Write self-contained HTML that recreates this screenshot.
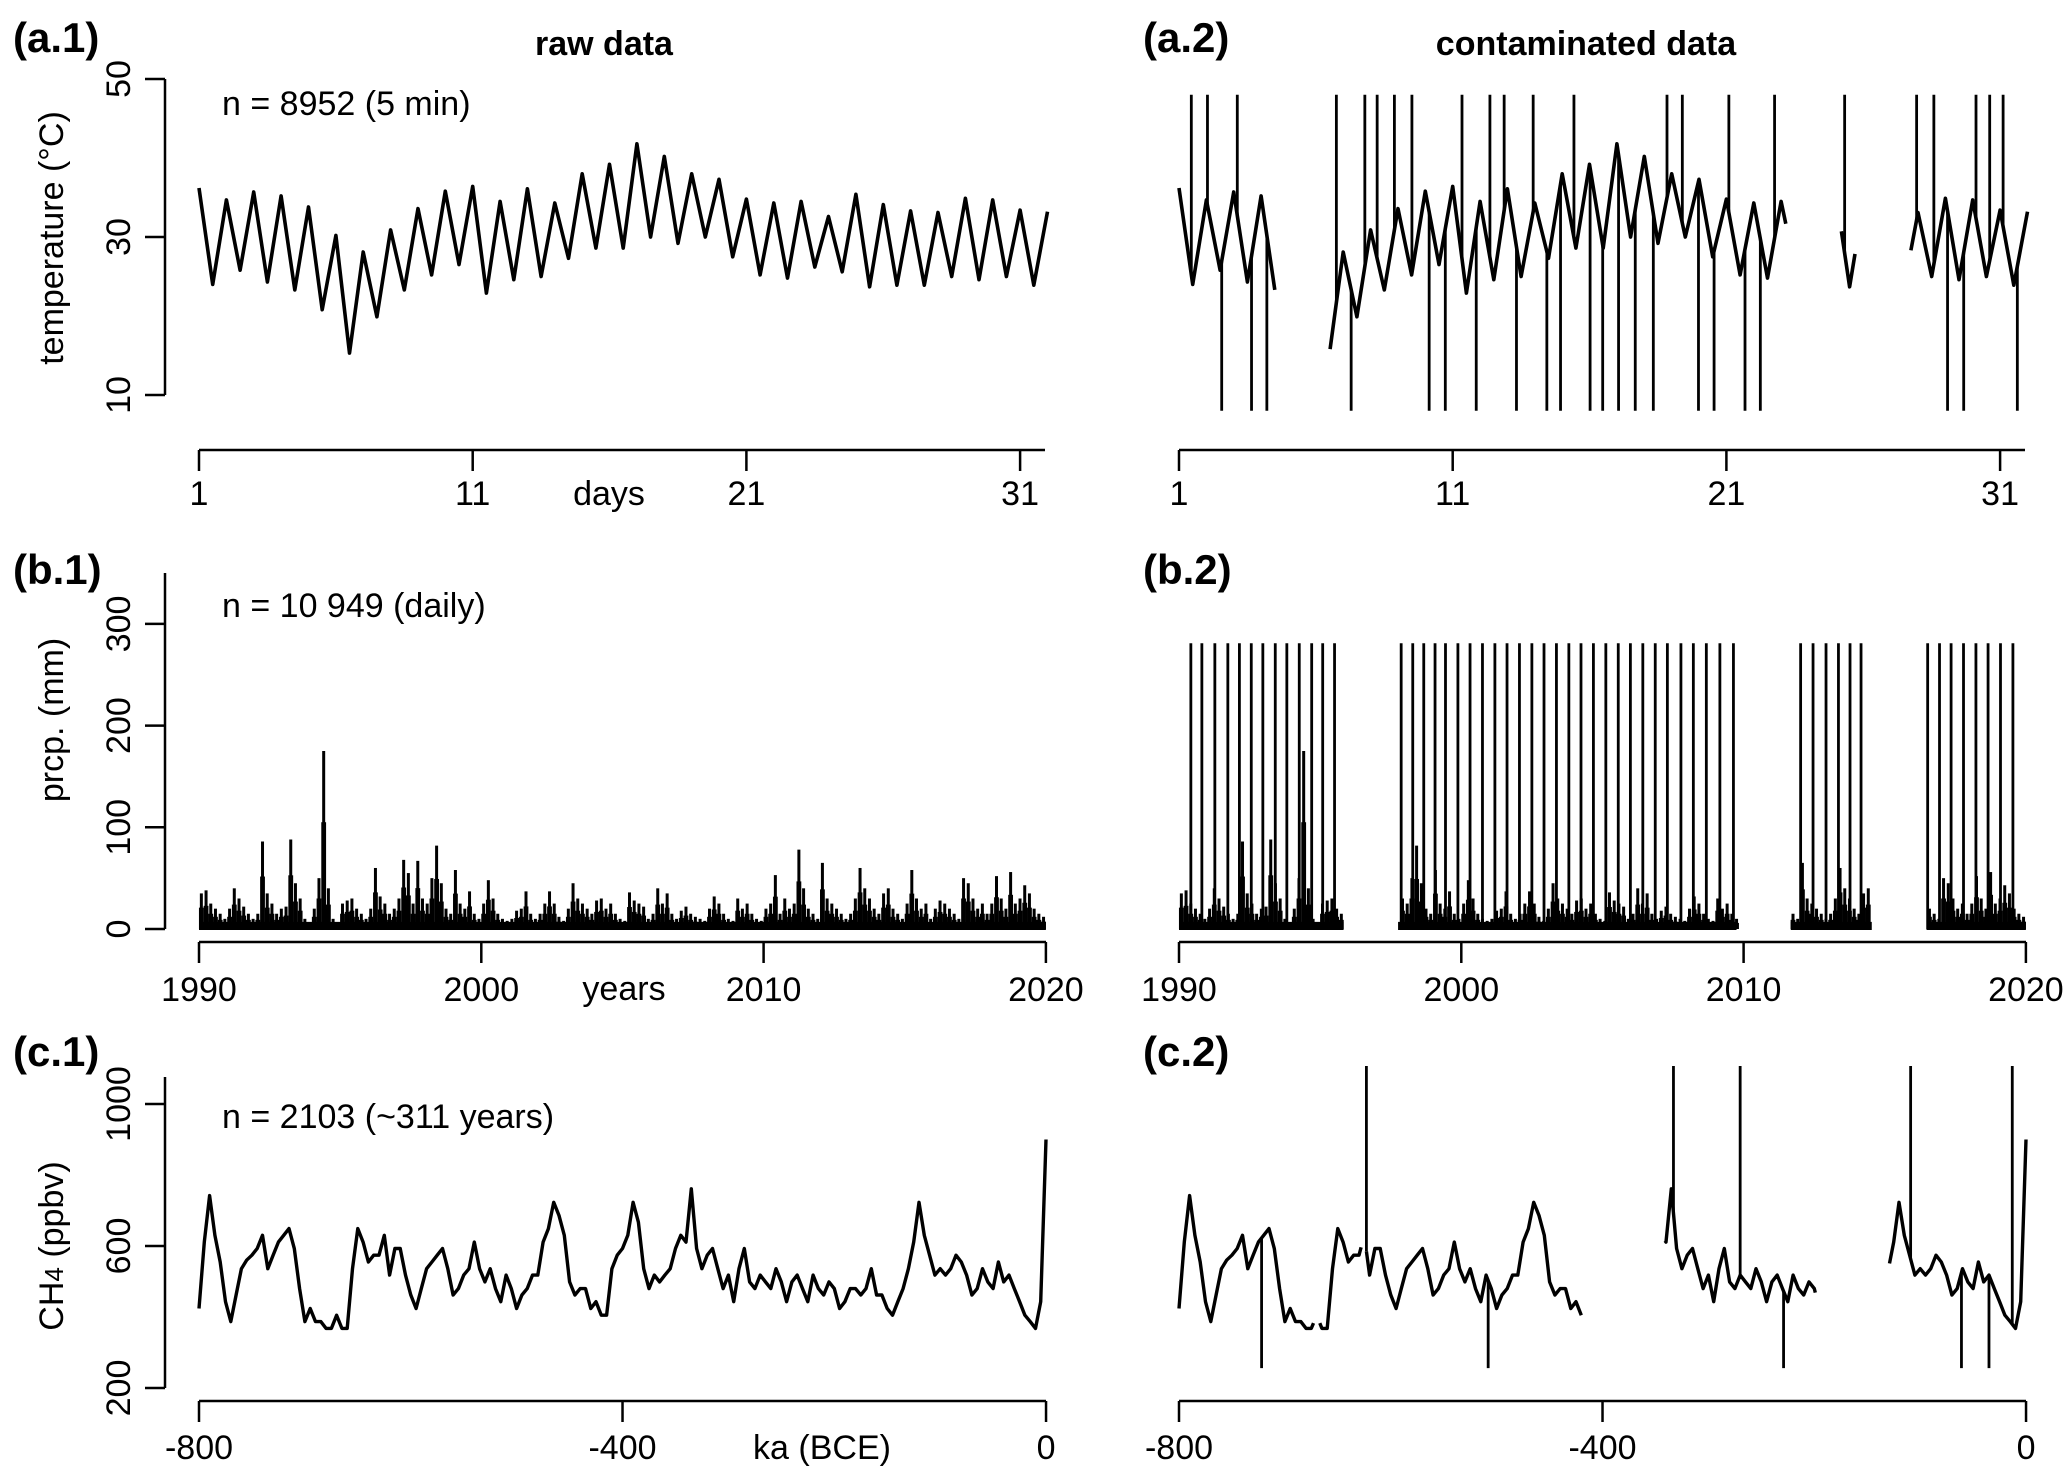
<!DOCTYPE html>
<html><head><meta charset="utf-8"><style>
html,body{margin:0;padding:0;background:#fff}
svg text{font-family:"Liberation Sans",Arial,sans-serif;fill:#000}
</style></head><body>
<svg id="fig" xmlns="http://www.w3.org/2000/svg" width="2067" height="1477" viewBox="0 0 2067 1477">
<g id="static">
<text x="13" y="52" font-size="42" font-weight="bold">(a.1)</text>
<text x="1143" y="52" font-size="42" font-weight="bold">(a.2)</text>
<text x="13" y="584" font-size="42" font-weight="bold">(b.1)</text>
<text x="1143" y="584" font-size="42" font-weight="bold">(b.2)</text>
<text x="13" y="1066" font-size="42" font-weight="bold">(c.1)</text>
<text x="1143" y="1066" font-size="42" font-weight="bold">(c.2)</text>
<text x="604" y="55" font-size="34" font-weight="bold" text-anchor="middle">raw data</text>
<text x="1586" y="55" font-size="34" font-weight="bold" text-anchor="middle">contaminated data</text>
<text x="222" y="115" font-size="34">n = 8952  (5 min)</text>
<text x="222" y="617" font-size="34">n = 10 949 (daily)</text>
<text x="222" y="1128" font-size="34">n = 2103 (~311 years)</text>
<text transform="translate(63,238) rotate(-90)" font-size="34" text-anchor="middle">temperature (°C)</text>
<text transform="translate(63,720) rotate(-90)" font-size="34" text-anchor="middle">prcp. (mm)</text>
<text transform="translate(63,1246) rotate(-90)" font-size="34" text-anchor="middle">CH<tspan font-size="26" dy="0">4</tspan> (ppbv)</text>
<text x="609" y="505" font-size="34" text-anchor="middle">days</text>
<text x="624" y="1000" font-size="34" text-anchor="middle">years</text>
<text x="822" y="1459" font-size="34" text-anchor="middle">ka (BCE)</text>
</g>
<g id="plot"></g>
</svg>
<script>
// ---- data: temperature (a) ----
const tempPeaks = [36.2,34.7,35.7,35.2,33.8,30.2,28.1,30.9,33.6,35.8,36.4,34.5,36.1,34.3,38,39.2,41.8,40.2,38,37.3,34.8,34.3,34.5,32.6,35.4,34.1,33.3,33.1,34.9,34.7,33.4,33.2];
const tempTroughs = [24,25.8,24.3,23.3,20.8,15.3,19.9,23.3,25.2,26.5,22.9,24.6,25,27.3,28.6,28.6,30,29.2,30,27.5,25.2,24.8,26.2,25.6,23.7,23.9,23.9,25,24.6,25,23.9];
const tempSegments = [[1,4.5],[6.52,23.17],[25.2,25.7],[27.74,32]];
const tempSpikesUp = [1.45,2.04,3.13,6.75,7.79,8.24,8.87,9.51,11.34,12.36,12.88,13.94,15.43,18.83,19.39,21.09,22.76,25.32,27.95,28.58,30.12,30.62,31.11];
const tempSpikesDown = [2.56,3.65,4.21,7.29,10.14,10.73,11.86,13.33,14.44,14.94,16.02,16.48,17.06,17.67,18.33,19.98,20.55,21.68,22.24,29.08,29.67,31.63];
const tempSpikeHigh = 48, tempSpikeLow = 8;
const tempTicks = [50,30,10];
const dayTicks = [1,11,21,31];

// ---- data: precipitation (b), 6 values per year 1990-2019 ----
const prcpYears = [1990,1991,1992,1993,1994,1995,1996,1997,1998,1999,2000,2001,2002,2003,2004,2005,2006,2007,2008,2009,2010,2011,2012,2013,2014,2015,2016,2017,2018,2019];
const prcpValues = [
35,38,25,20,15,10, 20,40,30,22,15,10, 15,86,35,25,15,20, 22,88,45,30,10,5, 20,50,175,40,10,5,
25,28,30,20,15,10, 20,60,32,25,15,20, 30,68,55,25,67,30, 25,50,82,45,20,15, 58,25,20,37,15,10,
25,48,30,15,10,8, 10,18,20,37,15,10, 15,25,37,25,12,8, 20,45,30,25,20,15, 28,30,20,25,15,10,
8,36,28,25,22,10, 15,40,25,35,15,10, 18,22,15,12,10,8, 20,32,25,15,10,8, 30,20,25,15,10,8,
20,25,53,15,30,20, 25,78,40,20,15,10, 65,30,25,20,15,10, 15,30,60,40,30,20, 15,35,40,20,15,10,
25,58,30,20,25,10, 20,28,25,20,15,10, 50,45,30,20,25,15, 25,52,30,20,56,25, 30,43,35,20,15,12];
const prcpSegments = [[1990,1995.83],[1997.76,2009.75],[2011.67,2014.54],[2016.48,2020]];
const prcpSpikes = [1990.42,1990.81,1991.27,1991.73,1992.14,1992.56,1992.97,1993.41,1993.82,1994.26,1994.70,1995.09,1995.51,
1997.87,1998.28,1998.67,1999.07,1999.44,1999.88,2000.31,2000.75,2001.19,2001.62,2002.06,2002.50,2002.93,2003.37,2003.81,2004.24,2004.68,2005.12,2005.56,2005.99,2006.43,2006.87,2007.30,2007.78,2008.22,2008.68,2009.16,2009.64,
2012.02,2012.46,2012.92,2013.36,2013.77,2014.16,
2016.52,2016.94,2017.35,2017.79,2018.23,2018.66,2019.10,2019.54];
const prcpSpikeHigh = 281;
const prcpTicks = [0,100,200,300];
const yearTicks = [1990,2000,2010,2020];

// ---- data: CH4 (c), every 5 ka from -800 to 0 ----
const ch4Start = -800, ch4Step = 5;
const ch4Values = [424,611,742,630,555,443,387,462,536,560,574,593,630,536,574,611,630,649,593,480,387,424,387,387,368,368,405,368,368,536,649,611,555,574,574,630,518,593,593,518,462,424,480,536,555,574,593,536,462,480,518,536,611,536,499,536,480,443,518,480,424,462,480,518,518,611,649,723,686,630,499,462,480,480,424,443,405,405,536,574,593,630,723,667,536,480,518,499,518,536,593,630,611,761,593,536,574,593,536,480,518,443,536,593,499,480,518,499,480,536,499,443,499,518,480,443,518,480,462,499,480,424,443,480,480,462,480,536,462,462,424,405,443,480,536,611,723,630,574,518,536,518,536,574,555,518,462,480,536,499,480,555,499,518,480,443,405,387,368,443,900];
const ch4Segments = [[-800,-673],[-667,-628],[-623,-420],[-341,-199],[-129,0]];
const ch4SpikesUp = [-623,-333,-270,-109,-13];
const ch4SpikesDown = [-722,-508,-229,-61,-35];
const ch4SpikeHigh = 1107, ch4SpikeLow = 256;
const ch4Ticks = [200,600,1000];
const kaTicks = [-800,-400,0];

// ---- scales ----
const RIGHT = 980;
const xA = d => 199 + (d-1)*27.37;
const yA = t => 79 + (50-t)*7.9;
const xB = y => 199 + (y-1990)*28.23;
const yB = v => 929 - v*1.017;
const xC = k => 199 + (k+800)*1.0588;
const yC = v => 1388 - (v-200)*0.355;

const NS = 'http://www.w3.org/2000/svg';
const plot = document.getElementById('plot');
function mk(tag, attrs, parent){const e=document.createElementNS(NS,tag);for(const k in attrs)e.setAttribute(k,attrs[k]);(parent||plot).appendChild(e);return e;}

const tPts = [];
for(let k=0;k<tempPeaks.length;k++){tPts.push([1+k,tempPeaks[k]]);if(k<tempTroughs.length)tPts.push([1.5+k,tempTroughs[k]]);}
function tempAt(d){for(let i=0;i<tPts.length-1;i++){if(d>=tPts[i][0]&&d<=tPts[i+1][0]){const f=(d-tPts[i][0])/(tPts[i+1][0]-tPts[i][0]);return tPts[i][1]+f*(tPts[i+1][1]-tPts[i][1]);}}return tPts[tPts.length-1][1];}
function tempPath(a,b,off){let p='';const pts=[[a,tempAt(a)]].concat(tPts.filter(q=>q[0]>a&&q[0]<b)).concat([[b,tempAt(b)]]);pts.forEach((q,i)=>{p+=(i?'L':'M')+(xA(q[0])+off).toFixed(1)+','+yA(q[1]).toFixed(1);});return p;}
function ch4At(k){const i=(k-ch4Start)/ch4Step;const i0=Math.max(0,Math.min(ch4Values.length-2,Math.floor(i)));const f=i-i0;return ch4Values[i0]+f*(ch4Values[i0+1]-ch4Values[i0]);}
function ch4Path(a,b,off){let p='';const pts=[[a,ch4At(a)]];ch4Values.forEach((v,i)=>{const k=ch4Start+i*ch4Step;if(k>a&&k<b)pts.push([k,v]);});pts.push([b,ch4At(b)]);pts.forEach((q,i)=>{p+=(i?'L':'M')+(xC(q[0])+off).toFixed(1)+','+yC(q[1]).toFixed(1);});return p;}

function yAxis(name,yTop,yBot,ticks,yf){
  const g=mk('g',{});
  
  
  mk('line',{x1:165,x2:165,y1:yTop,y2:yBot,stroke:'#000','stroke-width':2.5},g);
  ticks.forEach(t=>{
    const l=mk('line',{x1:145,x2:165,y1:yf(t),y2:yf(t),stroke:'#000','stroke-width':2.5},g);
    
    
    const tx=mk('text',{transform:`translate(130,${yf(t)}) rotate(-90)`,'font-size':34,'text-anchor':'middle'},g);
    
    
    tx.textContent=t;
  });
}
function xAxis(name,off,y,x0,x1,ticks,xf,labY){
  const g=mk('g',{});
  
  
  mk('line',{x1:x0+off,x2:x1+off,y1:y,y2:y,stroke:'#000','stroke-width':2.5},g);
  ticks.forEach(t=>{
    const x=xf(t)+off;
    const l=mk('line',{x1:x,x2:x,y1:y,y2:y+21,stroke:'#000','stroke-width':2.5},g);
    
    
    const tx=mk('text',{x:x,y:labY,'font-size':34,'text-anchor':'middle'},g);
    
    
    tx.textContent=t;
  });
}

// ---- panel a ----
yAxis('y-axis-a1',79,395,tempTicks,yA);
xAxis('x-axis-a1',0,450,199,1045,dayTicks,xA,505);
xAxis('x-axis-a2',RIGHT,450,199,1045,dayTicks,xA,505);
const la=mk('path',{d:tempPath(1,32,0),fill:'none',stroke:'#000','stroke-width':3.6,'stroke-linejoin':'round'});


tempSegments.forEach(s=>{
  const p=mk('path',{d:tempPath(s[0],s[1],RIGHT),fill:'none',stroke:'#000','stroke-width':3.6,'stroke-linejoin':'round'});
  
  
});
tempSpikesUp.forEach(d=>{
  const l=mk('line',{x1:xA(d)+RIGHT,x2:xA(d)+RIGHT,y1:yA(tempAt(d)),y2:yA(tempSpikeHigh),stroke:'#000','stroke-width':2.8});
  
  
});
tempSpikesDown.forEach(d=>{
  const l=mk('line',{x1:xA(d)+RIGHT,x2:xA(d)+RIGHT,y1:yA(tempAt(d)),y2:yA(tempSpikeLow),stroke:'#000','stroke-width':2.8});
  
  
});

// ---- panel b ----
yAxis('y-axis-b1',573,929,prcpTicks,yB);
xAxis('x-axis-b1',0,942,199,1046,yearTicks,xB,1001);
xAxis('x-axis-b2',RIGHT,942,199,1046,yearTicks,xB,1001);
function prcpDraw(off,segs){
  segs.forEach(s=>{
    const base=mk('rect',{x:xB(s[0])+off,y:yB(7),width:xB(s[1])-xB(s[0]),height:yB(0)-yB(7)+1,fill:'#000'});
    
    
  });
  prcpValues.forEach((v,i)=>{
    const yr=prcpYears[Math.floor(i/6)]+((i%6)+0.5)/6;
    if(!segs.some(s=>yr>=s[0]&&yr<=s[1]))return;
    const x=xB(yr)+off;
    const l=mk('line',{x1:x,x2:x,y1:yB(0),y2:yB(v),stroke:'#000','stroke-width':3});
    
    
    const b=mk('rect',{x:x-2.4,y:yB(v*0.6),width:4.8,height:yB(0)-yB(v*0.6),fill:'#000'});
    
    
  });
}
prcpDraw(0,[[1990,2020]]);
prcpDraw(RIGHT,prcpSegments);
prcpSpikes.forEach(y=>{
  const l=mk('line',{x1:xB(y)+RIGHT,x2:xB(y)+RIGHT,y1:yB(0),y2:yB(prcpSpikeHigh),stroke:'#000','stroke-width':2.8});
  
  
});

// ---- panel c ----
yAxis('y-axis-c1',1077,1388,ch4Ticks,yC);
xAxis('x-axis-c1',0,1401,199,1046,kaTicks,xC,1459);
xAxis('x-axis-c2',RIGHT,1401,199,1046,kaTicks,xC,1459);
const lc=mk('path',{d:ch4Path(-800,0,0),fill:'none',stroke:'#000','stroke-width':3.4,'stroke-linejoin':'round'});


ch4Segments.forEach(s=>{
  const p=mk('path',{d:ch4Path(s[0],s[1],RIGHT),fill:'none',stroke:'#000','stroke-width':3.4,'stroke-linejoin':'round'});
  
  
});
ch4SpikesUp.forEach(k=>{
  const l=mk('line',{x1:xC(k)+RIGHT,x2:xC(k)+RIGHT,y1:yC(ch4At(k)),y2:yC(ch4SpikeHigh),stroke:'#000','stroke-width':2.8});
  
  
});
ch4SpikesDown.forEach(k=>{
  const l=mk('line',{x1:xC(k)+RIGHT,x2:xC(k)+RIGHT,y1:yC(ch4At(k)),y2:yC(ch4SpikeLow),stroke:'#000','stroke-width':2.8});
  
  
});
</script>
</body></html>
